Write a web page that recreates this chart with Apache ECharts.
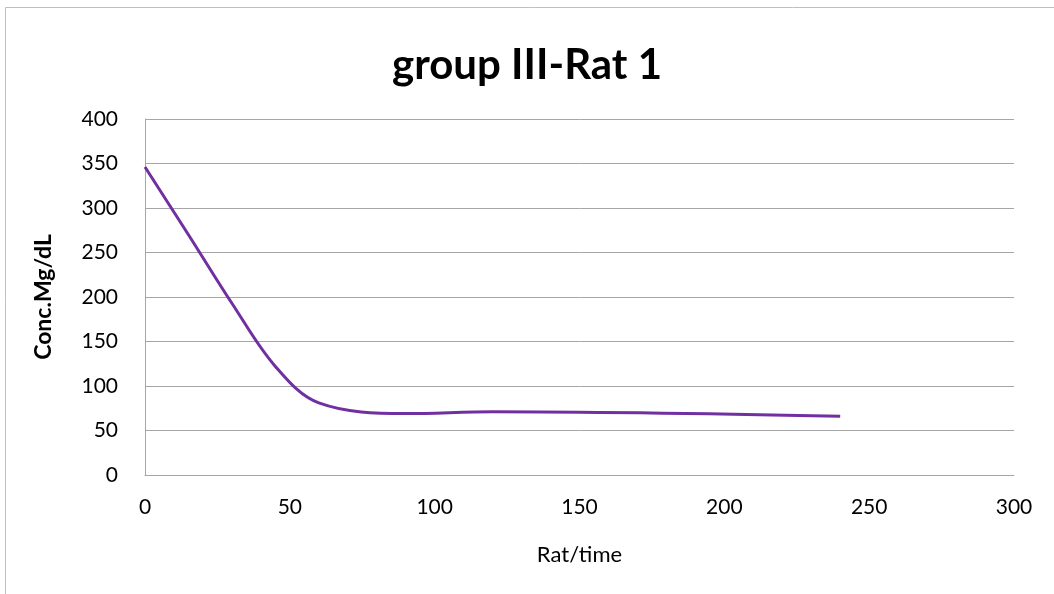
<!DOCTYPE html>
<html>
<head>
<meta charset="utf-8">
<script src="https://cdn.jsdelivr.net/npm/echarts@6/dist/echarts.min.js"></script>
<style>
  html, body { margin: 0; padding: 0; background: #fff; }
  #chart { width: 1054px; height: 594px; }
</style>
</head>
<body>
<div id="chart"></div>
<script>
// Sampling times and measured concentration for rat 1 of group III
const times = [0, 15, 30, 45, 60, 90, 120, 240];
const conc = [346, 270, 193, 122, 81, 69, 71, 66];

const chartTitle = 'group III-Rat 1';
const xAxisName = 'Rat/time';
const yAxisName = 'Conc.Mg/dL';

const FONT = 'Lato, "Open Sans", sans-serif';
const gridColor = '#a6a6a6';

const chart = echarts.init(document.getElementById('chart'), null, { renderer: 'canvas' });

chart.setOption({
  backgroundColor: '#ffffff',
  animation: false,
  title: {
    text: chartTitle,
    left: 'center',
    top: 39,
    textStyle: { fontFamily: FONT, fontWeight: 'bold', fontSize: 42, color: '#000' }
  },
  graphic: [{
    type: 'rect',
    shape: { x: 5.5, y: 7.5, width: 1200, height: 800 },
    style: { fill: 'none', stroke: '#bfbfbf', lineWidth: 1 },
    silent: true
  }],
  grid: { left: 145, right: 40, top: 119, bottom: 119 },
  xAxis: {
    type: 'value',
    min: 0, max: 300, interval: 50,
    name: xAxisName,
    nameLocation: 'middle',
    nameGap: 69,
    nameTextStyle: { fontFamily: FONT, fontSize: 22, color: '#000' },
    axisLine: { show: true, lineStyle: { color: gridColor, width: 1 } },
    axisTick: { show: false },
    axisLabel: { fontFamily: FONT, fontSize: 21, color: '#000', margin: 22 },
    splitLine: { show: false }
  },
  yAxis: {
    type: 'value',
    min: 0, max: 400, interval: 50,
    name: yAxisName,
    nameLocation: 'middle',
    nameGap: 90,
    nameRotate: 90,
    nameTextStyle: { fontFamily: FONT, fontWeight: 'bold', fontSize: 23, color: '#000' },
    axisLine: { show: true, lineStyle: { color: gridColor, width: 1 } },
    axisTick: { show: false },
    axisLabel: { fontFamily: FONT, fontSize: 21, color: '#000', margin: 27 },
    splitLine: { show: true, lineStyle: { color: gridColor, width: 1 } }
  },
  series: [{
    type: 'line',
    data: times.map((t, i) => [t, conc[i]]),
    smooth: 0.35,
    showSymbol: false,
    symbol: 'none',
    lineStyle: { color: '#7030a0', width: 3 },
    z: 5
  }]
});
</script>
</body>
</html>
